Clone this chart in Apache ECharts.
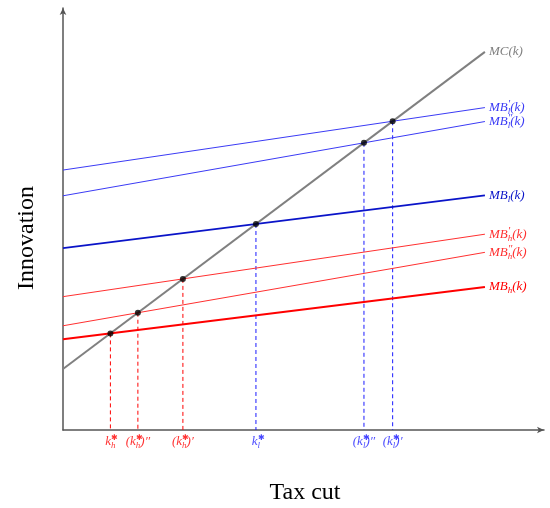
<!DOCTYPE html>
<html>
<head>
<meta charset="utf-8">
<script src="https://cdn.jsdelivr.net/npm/echarts@6/dist/echarts.min.js"></script>
<style>html,body{margin:0;padding:0;background:#fff}#c{width:550px;height:508px}</style>
</head>
<body>
<div id="c"></div>
<script>
// Line endpoints (x from 0 to 100)
const xEnds = [0, 100];
const mcY   = [14.45, 89.6];  // MC(k)
const mbL1Y = [61.6, 76.4];   // MB'_l(k)
const mbL2Y = [55.5, 73.1];   // MB''_l(k)
const mbLY  = [43.1, 55.6];   // MB_l(k)
const mbH1Y = [31.6, 46.4];   // MB'_h(k)
const mbH2Y = [24.7, 42.1];   // MB''_h(k)
const mbHY  = [21.5, 33.9];   // MB_h(k)

const BLUE = '#1a1aff', BLUE_T = '#3b3bf5', DBLUE = '#0a14c8';
const RED = '#ff0000', RED_T = '#ff3030';
const GRAY = '#808080';

const serif = 'Liberation Serif';
const rich = (c) => ({
  m: {fontFamily: serif, fontStyle: 'italic', fontSize: 13, color: c, lineHeight: 17, verticalAlign: 'middle', align: 'left'},
  sub: {fontFamily: serif, fontStyle: 'italic', fontSize: 9, color: c, lineHeight: 9, verticalAlign: 'bottom', align: 'left'},
  sup: {fontFamily: serif, fontStyle: 'italic', fontSize: 11, color: c, lineHeight: 9, verticalAlign: 'top', width: 0, align: 'left'},
  st: {fontFamily: serif, fontSize: 8, color: c, lineHeight: 9, verticalAlign: 'top', width: 0, align: 'left'}
});

function pts(ys) { return xEnds.map((x, i) => [x, ys[i]]); }
function lineFn(ys) { const s = (ys[1] - ys[0]) / (xEnds[1] - xEnds[0]); return {a: ys[0] - s * xEnds[0], s: s}; }
function cross(ys) {
  const p = lineFn(ys), q = lineFn(mcY);
  const x = (p.a - q.a) / (q.s - p.s);
  return [x, q.a + q.s * x];
}

const curves = [
  {ys: mcY,   color: GRAY,  w: 2,   lab: '{m|MC(k)}'},
  {ys: mbL1Y, color: BLUE_T, w: 1,  lab: "{m|MB}{sup|′}{sub|l}{m|(k)}"},
  {ys: mbL2Y, color: BLUE_T, w: 1,  lab: "{m|MB}{sup|″}{sub|l}{m|(k)}"},
  {ys: mbLY,  color: DBLUE, w: 2,   lab: '{m|MB}{sub|l}{m|(k)}'},
  {ys: mbH1Y, color: RED_T, w: 1,   lab: "{m|MB}{sup|′}{sub|h}{m|(k)}"},
  {ys: mbH2Y, color: RED_T, w: 1,   lab: "{m|MB}{sup|″}{sub|h}{m|(k)}"},
  {ys: mbHY,  color: RED,   w: 2,   lab: '{m|MB}{sub|h}{m|(k)}'}
];

const drops = [
  {ys: mbHY,  color: RED,  lab: '{m|k}{st|✱}{sub|h}'},
  {ys: mbH2Y, color: RED,  lab: "{m|(k}{st|✱}{sub|h}{m|)″}"},
  {ys: mbH1Y, color: RED,  lab: "{m|(k}{st|✱}{sub|h}{m|)′}"},
  {ys: mbLY,  color: BLUE, lab: '{m|k}{st|✱}{sub|l}'},
  {ys: mbL2Y, color: BLUE, lab: "{m|(k}{st|✱}{sub|l}{m|)″}"},
  {ys: mbL1Y, color: BLUE, lab: "{m|(k}{st|✱}{sub|l}{m|)′}"}
];

const series = [];
drops.forEach(d => {
  const p = cross(d.ys);
  series.push({
    type: 'line', silent: true, symbol: 'none', z: 1,
    lineStyle: {color: d.color, width: 1, type: [4, 3]},
    data: [p, [p[0], 0]]
  });
});
series.push({
  type: 'scatter', silent: true, z: 4, symbolSize: 1,
  itemStyle: {color: 'rgba(0,0,0,0)'},
  label: {show: true, position: 'bottom', distance: 3},
  data: drops.map(d => ({
    value: [cross(d.ys)[0], 0],
    label: {formatter: d.lab, rich: rich(d.color)}
  }))
});
curves.forEach(c => {
  series.push({
    type: 'line', silent: true, symbol: 'none', z: 2,
    lineStyle: {color: c.color, width: c.w},
    data: pts(c.ys),
    endLabel: {show: true, distance: 4, formatter: c.lab, rich: rich(c.color)}
  });
});
series.push({
  type: 'scatter', silent: true, z: 5, symbolSize: 6,
  itemStyle: {color: '#000'},
  data: drops.map(d => cross(d.ys))
});

const chart = echarts.init(document.getElementById('c'), null, {renderer: 'canvas'});
chart.setOption({
  animation: false,
  backgroundColor: '#fff',
  grid: {left: 63, right: 6, top: 8, bottom: 78},
  xAxis: {
    type: 'value', min: 0, max: 114,
    axisLine: {show: true, lineStyle: {color: '#555', width: 1.5}, symbol: ['none', 'arrow'], symbolSize: [5, 7]},
    axisTick: {show: false}, axisLabel: {show: false}, splitLine: {show: false}
  },
  yAxis: {
    type: 'value', min: 0, max: 100,
    axisLine: {show: true, lineStyle: {color: '#555', width: 1.5}, symbol: ['none', 'arrow'], symbolSize: [5, 7]},
    axisTick: {show: false}, axisLabel: {show: false}, splitLine: {show: false}
  },
  graphic: [
    {type: 'text', x: 27, y: 238, rotation: Math.PI / 2,
     style: {text: 'Innovation', fontFamily: serif, fontSize: 24, fill: '#000', textAlign: 'center', textVerticalAlign: 'middle'}},
    {type: 'text', x: 305, y: 493,
     style: {text: 'Tax cut', fontFamily: serif, fontSize: 24, fill: '#000', textAlign: 'center', textVerticalAlign: 'middle'}}
  ],
  series: series
});
</script>
</body>
</html>
